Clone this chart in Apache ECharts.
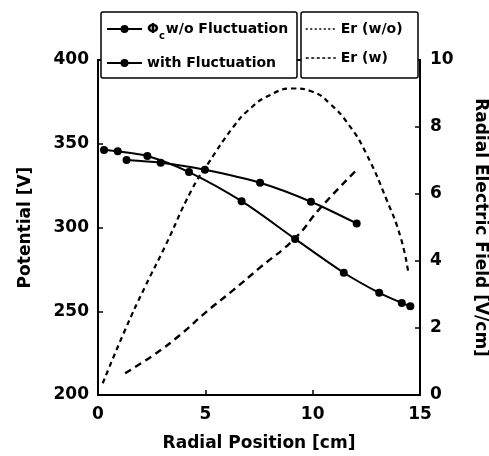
<!DOCTYPE html>
<html>
<head>
<meta charset="utf-8">
<script src="https://cdn.jsdelivr.net/npm/echarts@6/dist/echarts.min.js"></script>
<style>
  html, body { margin: 0; padding: 0; background: #fff; }
  #chart { width: 489px; height: 456px; }
</style>
</head>
<body>
<div id="chart"></div>
<script>
// Radial position [cm] / potential [V] pairs
const phiWithout = [[0.28, 346.3], [0.92, 345.5], [2.3, 342.7], [4.24, 333.1], [6.69, 315.7], [9.18, 293.2], [11.45, 273], [13.1, 261], [14.15, 255], [14.55, 253]];
const phiWith = [[1.33, 340.3], [2.92, 338.7], [4.98, 334.5], [7.55, 326.7], [9.92, 315.4], [12.05, 302.4]];
// Radial position [cm] / electric field [V/cm] pairs
const erWithout = [[0.22, 0.35], [1.26, 1.94], [2.19, 3.23], [3.12, 4.43], [4.36, 6.12], [5.14, 6.92], [6.3, 8.0], [7.0, 8.5], [8.0, 8.95], [9.1, 9.15], [10.0, 9.05], [10.8, 8.7], [11.7, 8.05], [12.5, 7.2], [13.45, 5.82], [14.1, 4.7], [14.45, 3.68]];
const erWith = [[1.26, 0.65], [2.58, 1.19], [3.82, 1.79], [5.06, 2.49], [6.3, 3.13], [7.5, 3.78], [9.18, 4.68], [10.34, 5.57], [12.05, 6.72]];

const xTicks = { min: 0, max: 15, interval: 5 };
const potTicks = { min: 200, max: 400, interval: 50 };
const erTicks = { min: 0, max: 10, interval: 2 };

const FONT = 'DejaVu Sans';
const labelStyle = { color: '#000', fontFamily: FONT, fontWeight: 'bold', fontSize: 17 };

const chart = echarts.init(document.getElementById('chart'), null, { renderer: 'canvas' });

const axisCommon = {
  axisLine: { show: true, lineStyle: { color: '#000', width: 2 } },
  axisTick: { show: true, inside: true, length: 5, lineStyle: { color: '#000', width: 1.5 } },
  splitLine: { show: false },
  axisLabel: Object.assign({ margin: 10 }, labelStyle),
  nameTextStyle: Object.assign({}, labelStyle)
};

const legendText = {
  color: '#000', fontFamily: FONT, fontWeight: 'bold', fontSize: 14,
  rich: {
    a: { color: '#000', fontFamily: FONT, fontWeight: 'bold', fontSize: 14 },
    s: { color: '#000', fontFamily: FONT, fontWeight: 'bold', fontSize: 10, padding: [14, 1, 0, 0] }
  }
};

const legendBase = {
  orient: 'vertical',
  top: 22,
  padding: 0,
  itemHeight: 10,
  itemGap: 15,
  z: 10,
  textStyle: legendText
};

// Framed boxes behind the two legend groups
const boxStyle = { fill: '#fff', stroke: '#000', lineWidth: 1.5 };

chart.setOption({
  animation: false,
  backgroundColor: '#fff',
  grid: {
    left: 98, right: 69, top: 60, bottom: 61,
    outerBoundsMode: 'none', containLabel: false,
    show: true, borderColor: '#000', borderWidth: 2
  },
  graphic: [
    { type: 'rect', z: 8, shape: { x: 101, y: 12, width: 196, height: 66, r: 2 }, style: boxStyle },
    { type: 'rect', z: 8, shape: { x: 301, y: 12, width: 117, height: 66, r: 2 }, style: boxStyle }
  ],
  legend: [
    Object.assign({}, legendBase, {
      left: 106,
      itemWidth: 35,
      data: ['phiWithout', 'phiWith'],
      formatter: function (name) {
        return name === 'phiWithout' ? '{a|Φ}{s|c}{a|w/o Fluctuation}' : '{a|with Fluctuation}';
      }
    }),
    Object.assign({}, legendBase, {
      left: 305,
      itemWidth: 30,
      data: [
        { name: 'Er (w/o)', itemStyle: { opacity: 0 }, lineStyle: { type: [2, 2.5], width: 1.5 } },
        { name: 'Er (w)', itemStyle: { opacity: 0 }, lineStyle: { type: [3, 2.5], width: 1.5 } }
      ]
    })
  ],
  xAxis: Object.assign({}, axisCommon, {
    type: 'value', min: xTicks.min, max: xTicks.max, interval: xTicks.interval,
    name: 'Radial Position [cm]', nameLocation: 'middle', nameGap: 40,
    axisLabel: Object.assign({ margin: 11 }, labelStyle)
  }),
  yAxis: [
    Object.assign({}, axisCommon, {
      type: 'value', min: potTicks.min, max: potTicks.max, interval: potTicks.interval,
      name: 'Potential [V]', nameLocation: 'middle', nameGap: 64, nameRotate: 90,
      axisLabel: Object.assign({ margin: 9 }, labelStyle)
    }),
    Object.assign({}, axisCommon, {
      type: 'value', position: 'right', min: erTicks.min, max: erTicks.max, interval: erTicks.interval,
      name: 'Radial Electric Field [V/cm]', nameLocation: 'middle', nameGap: 52, nameRotate: -90,
      axisLabel: Object.assign({ margin: 10 }, labelStyle)
    })
  ],
  series: [
    {
      name: 'phiWithout', type: 'line', yAxisIndex: 0, data: phiWithout, smooth: 0.3,
      symbol: 'circle', symbolSize: 8,
      lineStyle: { color: '#000', width: 2 }, itemStyle: { color: '#000' }
    },
    {
      name: 'phiWith', type: 'line', yAxisIndex: 0, data: phiWith, smooth: 0.3,
      symbol: 'circle', symbolSize: 8,
      lineStyle: { color: '#000', width: 2 }, itemStyle: { color: '#000' }
    },
    {
      name: 'Er (w/o)', type: 'line', yAxisIndex: 1, data: erWithout, smooth: 0.5,
      symbol: 'none',
      lineStyle: { color: '#000', width: 2.2, type: [5, 4] }, itemStyle: { color: '#000' }
    },
    {
      name: 'Er (w)', type: 'line', yAxisIndex: 1, data: erWith, smooth: 0.5,
      symbol: 'none',
      lineStyle: { color: '#000', width: 2.4, type: [7, 5] }, itemStyle: { color: '#000' }
    }
  ]
});
</script>
</body>
</html>
